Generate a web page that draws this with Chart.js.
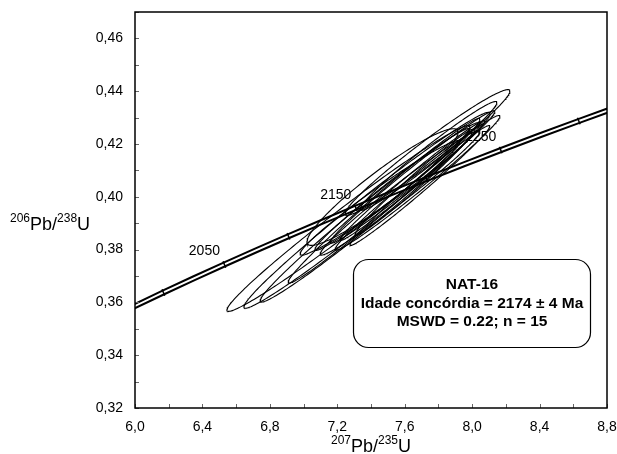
<!DOCTYPE html>
<html>
<head>
<meta charset="utf-8">
<script src="https://cdn.jsdelivr.net/npm/chart.js@4.4.1/dist/chart.umd.min.js"></script>
<style>
  html, body { margin: 0; padding: 0; background: #fff; }
  canvas { display: block; }
</style>
</head>
<body>
<canvas id="concordia" width="617" height="454"></canvas>
<script>
// Concordia nodes every 50 Ma
const concordiaAges = [1950, 2000, 2050, 2100, 2150, 2200, 2250, 2300, 2350];
const concordiaX = [5.8241, 6.1685, 6.5304, 6.9105, 7.3098, 7.7291, 8.1697, 8.6327, 9.1188];
const concordiaY = [0.35322, 0.36377, 0.37438, 0.38509, 0.39587, 0.40674, 0.41769, 0.42873, 0.43985];
const labelledAges = [2050, 2150, 2250];

// Spot analyses: 207Pb/235U, 206Pb/238U, 2s errors, error correlation
const spotX = [7.266, 7.376, 7.394, 7.468, 7.735, 7.741, 7.477, 7.646, 7.527, 7.646, 7.676, 7.690, 7.572, 7.661, 7.453];
const spotY = [0.3918, 0.3949, 0.3941, 0.4037, 0.4168, 0.4155, 0.3985, 0.4075, 0.4028, 0.4062, 0.4053, 0.4043, 0.4015, 0.4056, 0.3996];
const errX = [0.721, 0.730, 0.652, 0.448, 0.489, 0.406, 0.569, 0.489, 0.460, 0.430, 0.489, 0.415, 0.474, 0.356, 0.474];
const errY = [0.0352, 0.0371, 0.0340, 0.0221, 0.0238, 0.0206, 0.0312, 0.0251, 0.0231, 0.0227, 0.0255, 0.0227, 0.0236, 0.0202, 0.0217];
const rho = [0.986, 0.987, 0.987, 0.940, 0.975, 0.980, 0.989, 0.988, 0.986, 0.990, 0.988, 0.989, 0.984, 0.986, 0.978];

// Axis ticks
const xMin = 6.0, xMax = 8.8, xStep = 0.2;
const yMin = 0.32, yMax = 0.47, yStep = 0.01;

const sampleText = ['NAT-16', 'Idade concórdia = 2174 ± 4 Ma', 'MSWD = 0.22; n = 15'];

const FONT = "'Liberation Sans', Arial, sans-serif";

function ellipsePoints(i) {
  const pts = [];
  const r = rho[i];
  const k = Math.sqrt(1 - r * r);
  const n = 240;
  for (let s = 0; s <= n; s++) {
    const t = s / n * 2 * Math.PI;
    pts.push({
      x: spotX[i] + errX[i] * Math.cos(t),
      y: spotY[i] + errY[i] * (r * Math.cos(t) + k * Math.sin(t))
    });
  }
  return pts;
}

const concordiaPts = concordiaAges.map((a, i) => ({ x: concordiaX[i], y: concordiaY[i] }));

const datasets = [];
spotX.forEach((_, i) => {
  datasets.push({
    data: ellipsePoints(i),
    showLine: true,
    borderColor: '#000',
    borderWidth: 1.1,
    pointRadius: 0,
    fill: false,
    clip: 0,
    order: 1
  });
});
// age tick marks on the concordia
datasets.push({
  data: concordiaPts,
  showLine: false,
  pointStyle: 'line',
  rotation: 68,
  pointRadius: 3.5,
  pointBorderColor: '#000',
  pointBorderWidth: 1.5,
  clip: 0,
  order: 2
});
// concordia band: black outline with white core
datasets.push({
  data: concordiaPts,
  showLine: true,
  borderColor: '#fff',
  borderWidth: 2,
  tension: 0.3,
  pointRadius: 0,
  clip: 0,
  order: 3
});
datasets.push({
  data: concordiaPts,
  showLine: true,
  borderColor: '#000',
  borderWidth: 6,
  tension: 0.3,
  pointRadius: 0,
  clip: 0,
  order: 4
});

function drawRatio(ctx, parts, x, baseline, align) {
  const big = '18px ' + FONT, small = '12px ' + FONT;
  let total = 0;
  parts.forEach(p => {
    ctx.font = p[1] ? small : big;
    total += ctx.measureText(p[0]).width;
  });
  let cx = align === 'center' ? x - total / 2 : x;
  ctx.textAlign = 'left';
  ctx.textBaseline = 'alphabetic';
  parts.forEach(p => {
    ctx.font = p[1] ? small : big;
    ctx.fillText(p[0], cx, p[1] ? baseline - 8 : baseline);
    cx += ctx.measureText(p[0]).width;
  });
}

const framePlugin = {
  id: 'frame',
  beforeDatasetsDraw(chart) {
    const { ctx, scales: { x, y } } = chart;
    ctx.save();
    ctx.fillStyle = '#000';
    ctx.font = '14px ' + FONT;
    ctx.textAlign = 'center';
    ctx.textBaseline = 'middle';
    labelledAges.forEach(age => {
      const i = concordiaAges.indexOf(age);
      const px = x.getPixelForValue(concordiaX[i]);
      const py = y.getPixelForValue(concordiaY[i]);
      ctx.fillText(String(age), px - 20, py - 13);
    });
    ctx.restore();
  },
  afterDraw(chart) {
    const { ctx, chartArea: a, scales: { x, y } } = chart;
    ctx.save();
    // inside tick marks
    ctx.strokeStyle = '#666';
    ctx.lineWidth = 1;
    x.ticks.forEach(t => {
      const px = Math.round(x.getPixelForValue(t.value)) + 0.5;
      ctx.beginPath();
      ctx.moveTo(px, a.bottom);
      ctx.lineTo(px, a.bottom - 4);
      ctx.stroke();
    });
    y.ticks.forEach(t => {
      const py = Math.round(y.getPixelForValue(t.value)) + 0.5;
      ctx.beginPath();
      ctx.moveTo(a.left, py);
      ctx.lineTo(a.left + 4, py);
      ctx.stroke();
    });
    // plot frame
    ctx.strokeStyle = '#000';
    ctx.lineWidth = 1.5;
    ctx.strokeRect(a.left, a.top, a.right - a.left, a.bottom - a.top);

    // axis titles
    ctx.fillStyle = '#000';
    drawRatio(ctx, [['207', true], ['Pb', false], ['/', false], ['235', true], ['U', false]],
      (a.left + a.right) / 2, 452, 'center');
    drawRatio(ctx, [['206', true], ['Pb', false], ['/', false], ['238', true], ['U', false]],
      10, 230, 'left');

    // result box
    ctx.lineWidth = 1.2;
    ctx.fillStyle = '#fff';
    ctx.beginPath();
    ctx.roundRect(353.5, 259.5, 237, 88, 15);
    ctx.fill();
    ctx.stroke();
    ctx.fillStyle = '#000';
    ctx.font = 'bold 15.5px ' + FONT;
    ctx.textAlign = 'center';
    ctx.textBaseline = 'middle';
    sampleText.forEach((line, i) => {
      ctx.fillText(line, 472, 285 + i * 18.5);
    });
    ctx.restore();
  }
};

new Chart(document.getElementById('concordia'), {
  type: 'scatter',
  data: { datasets },
  options: {
    responsive: false,
    animation: false,
    layout: { padding: { left: 0, right: 10, top: 12, bottom: 0 } },
    plugins: { legend: { display: false }, tooltip: { enabled: false } },
    scales: {
      x: {
        type: 'linear',
        min: xMin,
        max: xMax,
        grid: { display: false, drawTicks: false },
        border: { display: false },
        afterFit: s => { s.height = 46; s.paddingLeft = 0; s.paddingRight = 0; },
        ticks: {
          stepSize: xStep,
          autoSkip: false,
          maxRotation: 0,
          padding: 11,
          color: '#000',
          font: { family: FONT, size: 14 },
          callback: v => Math.round(v * 10) % 4 === 0 ? v.toFixed(1).replace('.', ',') : ''
        }
      },
      y: {
        type: 'linear',
        min: yMin,
        max: yMax,
        grid: { display: false, drawTicks: false },
        border: { display: false },
        afterFit: s => { s.width = 135; s.paddingTop = 0; s.paddingBottom = 0; },
        ticks: {
          stepSize: yStep,
          autoSkip: false,
          padding: 12,
          color: '#000',
          font: { family: FONT, size: 14 },
          callback: v => (Math.round(v * 100) % 2 === 0 && v < 0.465) ? v.toFixed(2).replace('.', ',') : ''
        }
      }
    }
  },
  plugins: [framePlugin]
});
</script>
</body>
</html>
